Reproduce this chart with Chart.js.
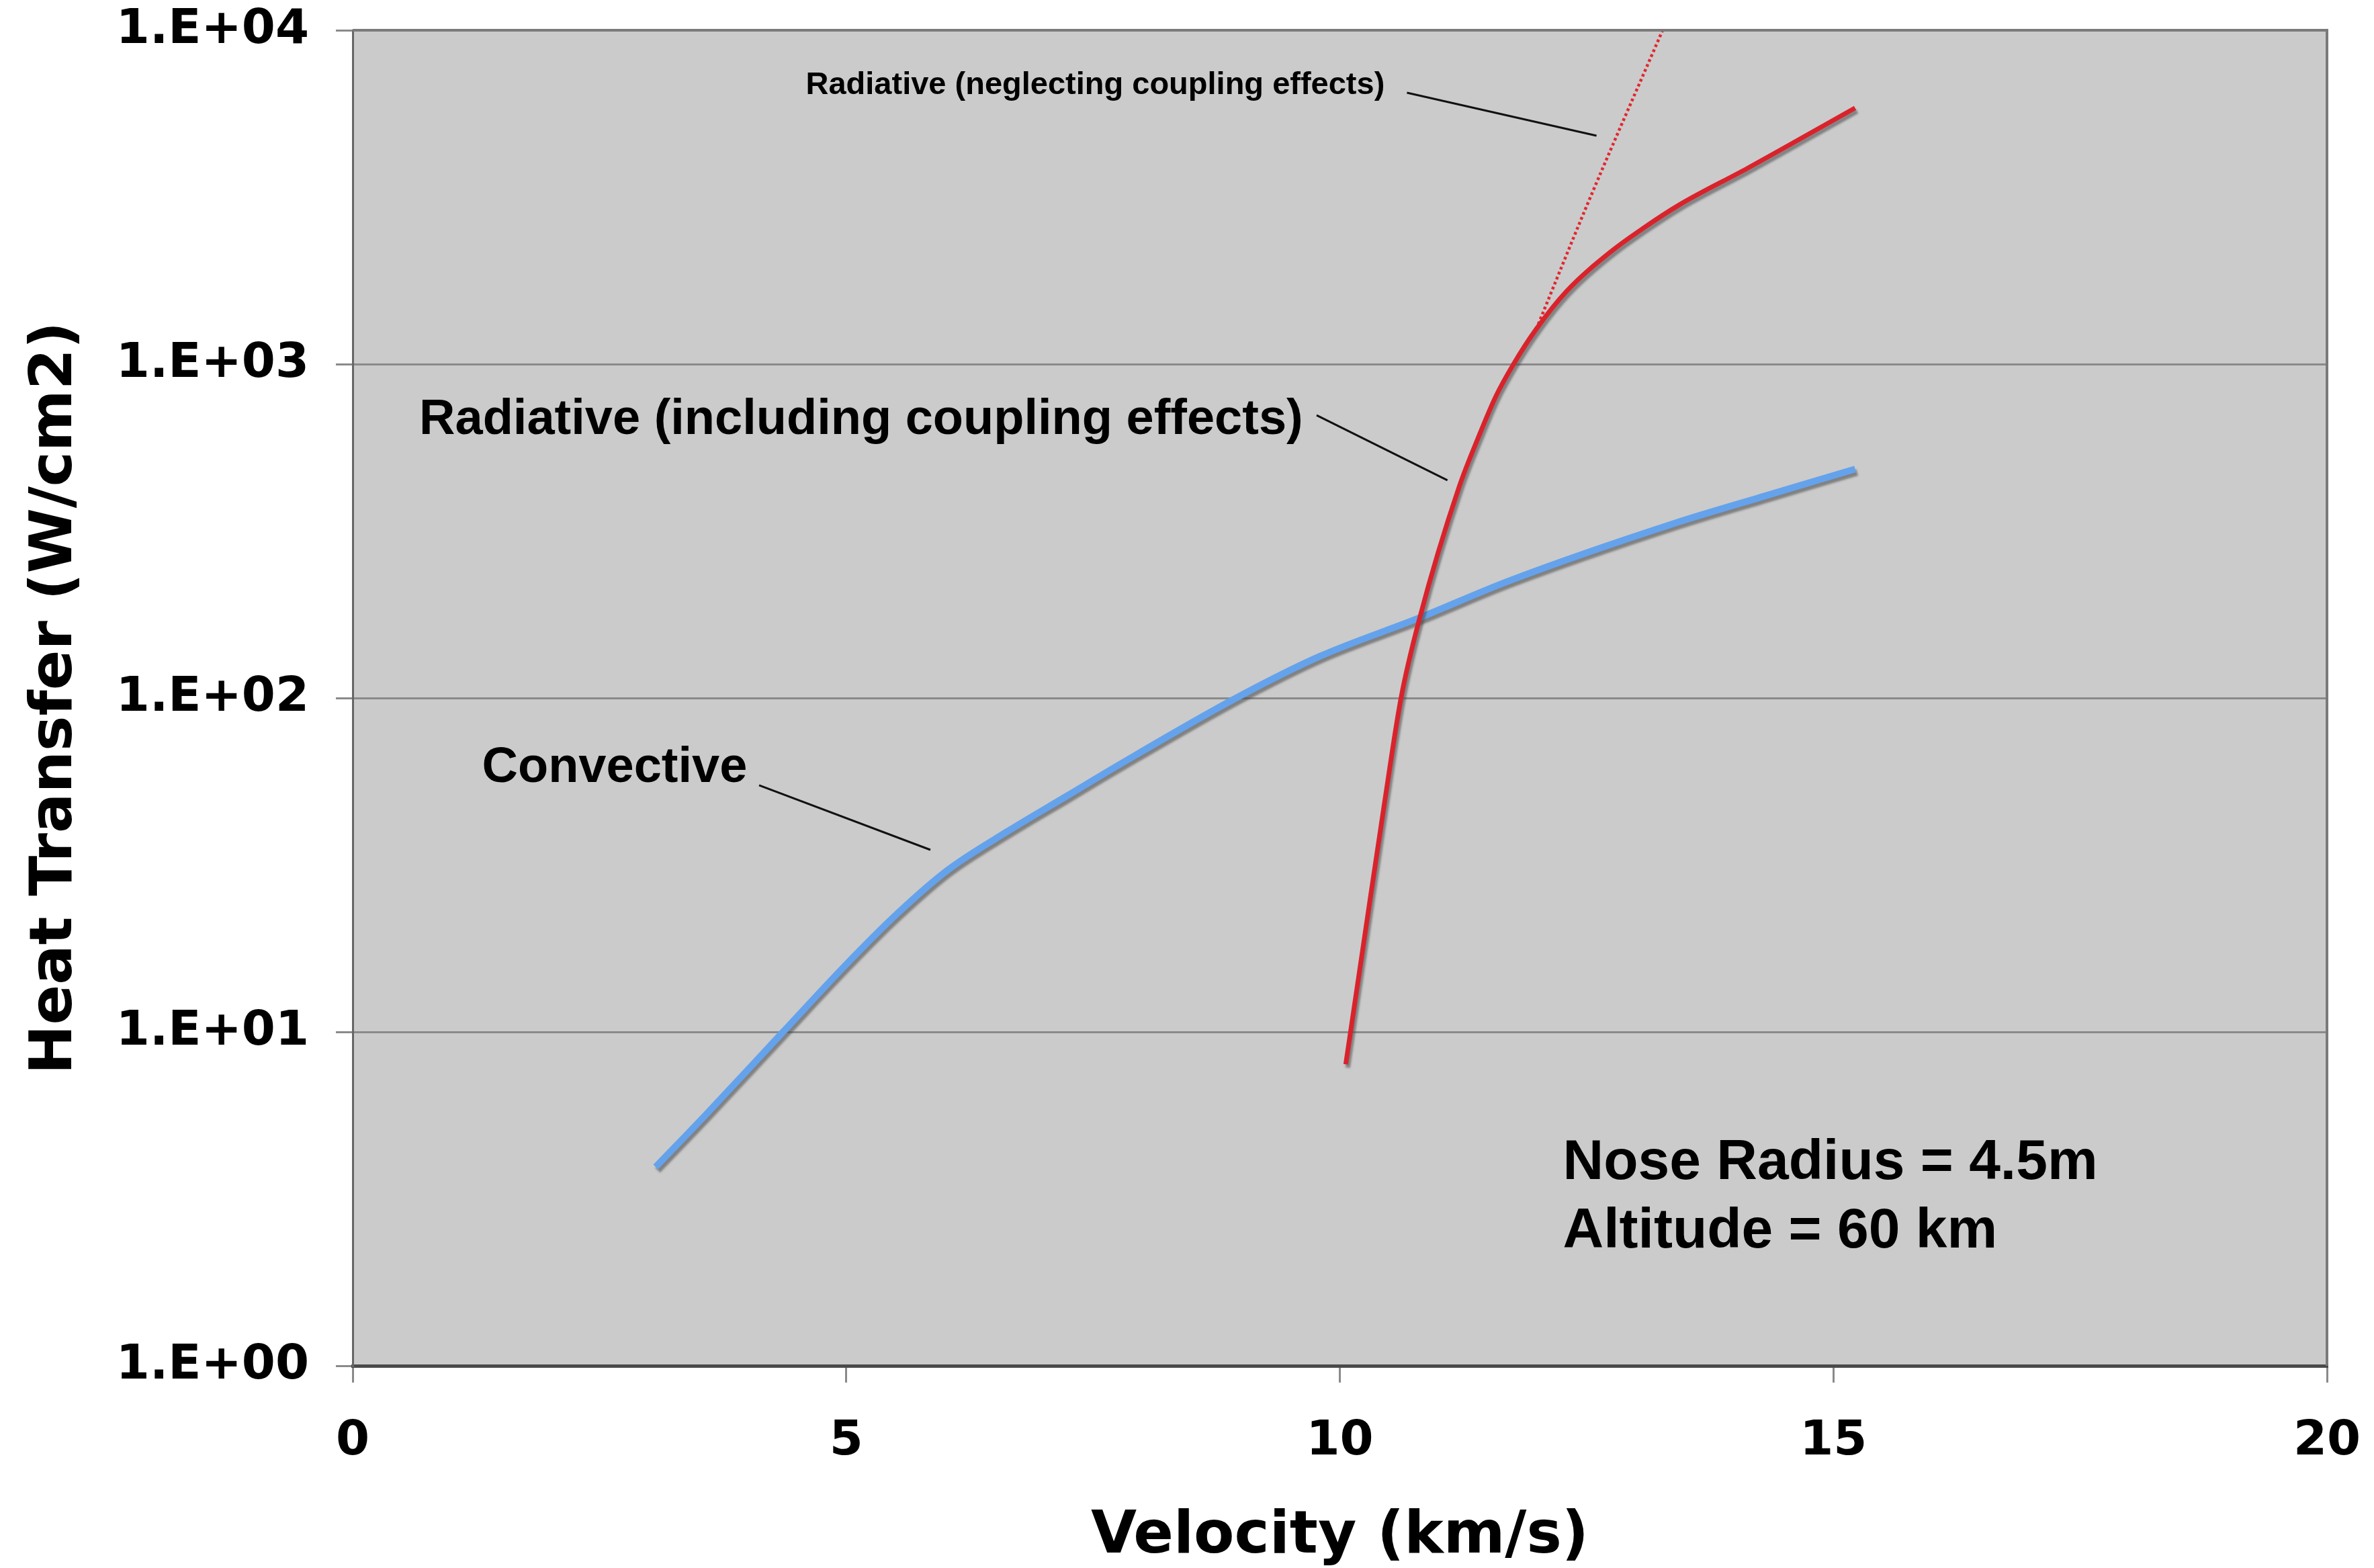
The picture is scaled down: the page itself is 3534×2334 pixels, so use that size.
<!DOCTYPE html>
<html>
<head>
<meta charset="utf-8">
<script src="https://cdn.jsdelivr.net/npm/chart.js@4.4.1/dist/chart.umd.min.js"></script>
<style>
  html, body { margin: 0; padding: 0; background: #ffffff; }
  #wrap { width: 3534px; height: 2334px; }
</style>
</head>
<body>
<div id="wrap"><canvas id="c" width="3534" height="2334"></canvas></div>
<script>
// ---------------- DATA ----------------
const convectiveVelocity = [3.07, 3.59, 4.36, 4.98, 5.51, 6.02, 6.63, 7.24, 7.76, 8.95, 9.79, 10.81, 11.71, 13.41, 14.31, 15.22];
const convectiveHeat     = [3.94, 5.7, 10, 15.7, 22.5, 30.4, 39.8, 51, 63, 100, 133, 174, 224, 335, 403, 485];

const radCoupledVelocity = [10.06, 10.25, 10.45, 10.62, 10.81, 11.21, 11.40, 11.58, 11.76, 11.99, 12.30, 12.76, 13.08, 13.44, 14.13, 15.22];
const radCoupledHeat     = [8.0, 19.2, 48, 100, 174, 430, 600, 800, 1000, 1273, 1656, 2188, 2560, 3000, 3860, 5850];

const radUncoupledVelocity = [11.99, 12.52, 13.27];
const radUncoupledHeat     = [1273, 3070, 10000];

const xTickValues = [0, 5, 10, 15, 20];
const xTickLabels = ['0', '5', '10', '15', '20'];
const yTickValues = [1, 10, 100, 1000, 10000];
const yTickLabels = ['1.E+00', '1.E+01', '1.E+02', '1.E+03', '1.E+04'];

const xTitle = 'Velocity (km/s)';
const yTitle = 'Heat Transfer (W/cm2)';

// annotation texts with anchor positions in data units (velocity, heat transfer)
const noteTexts    = ['Radiative (neglecting coupling effects)', 'Radiative (including coupling effects)', 'Convective', 'Nose Radius = 4.5m', 'Altitude = 60 km'];
const noteVelocity = [4.59, 0.674, 1.31, 12.26, 12.26];
const noteHeat     = [6440, 618, 56, 3.63, 2.26];
const noteSize     = [47, 74, 74, 84, 84];

// leader lines: start (velocity, heat) -> end (velocity, heat)
const leaderStartV = [10.68, 9.765, 4.117];
const leaderStartH = [6500, 703, 54.8];
const leaderEndV   = [12.60, 11.09, 5.852];
const leaderEndH   = [4830, 449, 35.1];

// ---------------- CHART ----------------
const toPoints = (xs, ys) => xs.map((x, i) => ({ x: x, y: ys[i] }));

const bgPlugin = {
  id: 'bg',
  beforeDraw(chart) {
    const { ctx, chartArea: a } = chart;
    ctx.save();
    ctx.fillStyle = '#ffffff';
    ctx.fillRect(0, 0, chart.width, chart.height);
    ctx.fillStyle = '#cbcbcb';
    ctx.fillRect(a.left, a.top, a.right - a.left, a.bottom - a.top);
    ctx.restore();
  }
};

const shadowPlugin = {
  id: 'shadow',
  beforeDatasetDraw(chart, args) {
    const ds = chart.data.datasets[args.index];
    if (ds.shadow) {
      const ctx = chart.ctx;
      ctx.save();
      ctx.shadowColor = 'rgba(70,70,70,0.55)';
      ctx.shadowOffsetX = 3;
      ctx.shadowOffsetY = 5;
      ctx.shadowBlur = 3;
    }
  },
  afterDatasetDraw(chart, args) {
    const ds = chart.data.datasets[args.index];
    if (ds.shadow) chart.ctx.restore();
  }
};

const notesPlugin = {
  id: 'notes',
  afterDraw(chart) {
    const { ctx, chartArea: a } = chart;
    const xs = chart.scales.x, ys = chart.scales.y;
    ctx.save();
    // right border and top border of plot
    ctx.strokeStyle = '#7a7a7a';
    ctx.lineWidth = 4;
    ctx.beginPath();
    ctx.moveTo(a.left, a.top);
    ctx.lineTo(a.right, a.top);
    ctx.lineTo(a.right, a.bottom);
    ctx.stroke();
    // leader lines
    ctx.strokeStyle = '#111111';
    ctx.lineWidth = 3;
    for (let i = 0; i < leaderStartV.length; i++) {
      ctx.beginPath();
      ctx.moveTo(xs.getPixelForValue(leaderStartV[i]), ys.getPixelForValue(leaderStartH[i]));
      ctx.lineTo(xs.getPixelForValue(leaderEndV[i]), ys.getPixelForValue(leaderEndH[i]));
      ctx.stroke();
    }
    // texts
    ctx.fillStyle = '#000000';
    ctx.textAlign = 'left';
    ctx.textBaseline = 'alphabetic';
    for (let i = 0; i < noteTexts.length; i++) {
      ctx.font = 'bold ' + noteSize[i] + 'px "Liberation Sans", Arial, sans-serif';
      ctx.fillText(noteTexts[i], xs.getPixelForValue(noteVelocity[i]), ys.getPixelForValue(noteHeat[i]));
    }
    ctx.restore();
  }
};

const tickFont = { family: '"DejaVu Sans", Verdana, sans-serif', size: 72, weight: 'bold', lineHeight: 1.2 };
const titleFont = { family: '"DejaVu Sans", Verdana, sans-serif', size: 88, weight: 'bold', lineHeight: 1.0 };

new Chart(document.getElementById('c'), {
  type: 'line',
  data: {
    datasets: [
      {
        label: 'Radiative (including coupling effects)',
        data: toPoints(radCoupledVelocity, radCoupledHeat),
        borderColor: '#d9232c',
        borderWidth: 7,
        pointRadius: 0,
        cubicInterpolationMode: 'monotone',
        borderCapStyle: 'butt',
        shadow: true
      },
      {
        label: 'Radiative (neglecting coupling effects)',
        data: toPoints(radUncoupledVelocity, radUncoupledHeat),
        borderColor: '#e3262e',
        borderWidth: 4.5,
        borderDash: [4, 4],
        pointRadius: 0,
        cubicInterpolationMode: 'monotone',
        shadow: false
      },
      {
        label: 'Convective',
        data: toPoints(convectiveVelocity, convectiveHeat),
        borderColor: '#64a2ec',
        borderWidth: 10,
        pointRadius: 0,
        cubicInterpolationMode: 'monotone',
        borderCapStyle: 'butt',
        shadow: true
      }
    ]
  },
  options: {
    responsive: false,
    devicePixelRatio: 1,
    animation: false,
    events: [],
    layout: { padding: { top: 45, right: 70, left: 0, bottom: 0 } },
    plugins: {
      legend: { display: false },
      tooltip: { enabled: false },
      title: { display: false }
    },
    scales: {
      x: {
        type: 'linear',
        min: 0,
        max: 20,
        afterBuildTicks(s) { s.ticks = xTickValues.map(v => ({ value: v })); },
        afterFit(s) { s.height = 301; s.paddingLeft = 0; s.paddingRight = 0; },
        ticks: {
          color: '#000000',
          font: tickFont,
          padding: 45,
          maxRotation: 0,
          callback: (v) => { const i = xTickValues.indexOf(v); return i >= 0 ? xTickLabels[i] : ''; }
        },
        grid: {
          drawOnChartArea: false,
          drawTicks: true,
          tickLength: 25,
          color: '#8a8a8a',
          lineWidth: 3
        },
        border: { display: true, color: '#4a4a4a', width: 5 },
        title: {
          display: true,
          text: xTitle,
          color: '#000000',
          font: titleFont,
          padding: { top: 0, bottom: 2 }
        }
      },
      y: {
        type: 'logarithmic',
        min: 1,
        max: 10000,
        afterBuildTicks(s) { s.ticks = yTickValues.map(v => ({ value: v })); },
        afterFit(s) { s.width = 525; s.paddingTop = 0; s.paddingBottom = 0; },
        ticks: {
          color: '#000000',
          font: tickFont,
          padding: 40,
          callback: (v) => { const i = yTickValues.indexOf(v); return i >= 0 ? yTickLabels[i] : ''; }
        },
        grid: {
          drawOnChartArea: true,
          drawTicks: true,
          tickLength: 25,
          color: '#8a8a8a',
          lineWidth: 3
        },
        border: { display: true, color: '#666666', width: 3 },
        title: {
          display: true,
          text: yTitle,
          color: '#000000',
          font: { family: '"DejaVu Sans", Verdana, sans-serif', size: 88, weight: 'bold', lineHeight: 1.2 },
          padding: { top: 30, bottom: 0 }
        }
      }
    }
  },
  plugins: [bgPlugin, shadowPlugin, notesPlugin]
});
</script>
</body>
</html>
